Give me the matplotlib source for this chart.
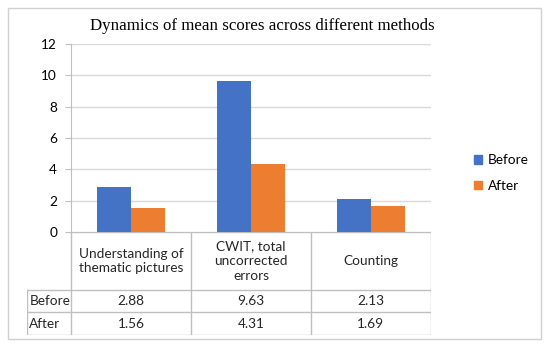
import matplotlib.pyplot as plt
import numpy as np
from matplotlib.patches import Patch

# Data
categories = ['Understanding of\nthematic pictures', 'CWIT, total\nuncorrected\nerrors', 'Counting']
before = [2.88, 9.63, 2.13]
after = [1.56, 4.31, 1.69]
series_names = ['Before', 'After']
yticks = [0, 2, 4, 6, 8, 10, 12]

blue = '#4472C4'
orange = '#ED7D31'
grid_c = '#D9D9D9'
line_c = '#BFBFBF'
W, H = 550, 347

fig = plt.figure(figsize=(5.5, 3.47), dpi=100)

def box(x0, y0, x1, y1):
    # pixel box (top-left origin) -> figure fraction rect
    return [x0 / W, 1 - y1 / H, (x1 - x0) / W, (y1 - y0) / H]

# outer chart border
fig.patches.append(plt.Rectangle((8 / W, 1 - 339 / H), 533 / W, 331 / H, transform=fig.transFigure,
                                 fill=False, edgecolor='#D0D0D0', lw=1))

fig.text(262 / W, 1 - 26 / H, 'Dynamics of mean scores across different methods',
         ha='center', va='center', fontsize=12.2, family='Liberation Serif')

# bar chart
ax = fig.add_axes(box(71, 44, 431, 232))
x = np.arange(len(categories)) + 0.5
w = 0.283
ax.bar(x - w / 2, before, w, color=blue, zorder=3)
ax.bar(x + w / 2, after, w, color=orange, zorder=3)
ax.set_xlim(0, len(categories))
ax.set_ylim(0, 12)
ax.set_yticks(yticks)
ax.set_yticklabels([str(t) for t in yticks], family='Lato', fontsize=9.8)
ax.set_xticks([])
ax.yaxis.grid(True, color=grid_c, lw=1, zorder=0)
for s in ['top', 'right', 'bottom']:
    ax.spines[s].set_visible(False)
ax.spines['left'].set_color(line_c)
ax.tick_params(axis='y', length=4, color=line_c, pad=6)

# data table
tx = fig.add_axes(box(27, 232, 431, 335))
lab_w = 44 / 120
tx.set_xlim(-lab_w, len(categories))
row_h = [58, 22, 23]
edges = np.concatenate([[0], np.cumsum(row_h)])
tx.set_ylim(edges[-1], 0)
tx.axis('off')
lk = dict(color=line_c, lw=1)
for i in range(len(categories) + 1):
    tx.plot([i, i], [0, edges[-1]], **lk)
tx.plot([-lab_w, -lab_w], [edges[1], edges[-1]], **lk)
tx.plot([0, len(categories)], [0, 0], **lk)
for e in edges[1:]:
    tx.plot([-lab_w, len(categories)], [e, e], **lk)
tf = dict(family='Lato', fontsize=9.8, color='#262626')
for i, c in enumerate(categories):
    tx.text(i + 0.5, (edges[0] + edges[1]) / 2, c, ha='center', va='center', linespacing=1.3, **tf)
for r, (name, vals) in enumerate(zip(series_names, [before, after])):
    yc = (edges[r + 1] + edges[r + 2]) / 2
    tx.text(-lab_w + 0.02, yc, name, ha='left', va='center', **tf)
    for i, v in enumerate(vals):
        tx.text(i + 0.5, yc, f'{v:.2f}', ha='center', va='center', **tf)

# legend
handles = [Patch(color=blue, label=series_names[0]), Patch(color=orange, label=series_names[1])]
fig.legend(handles=handles, loc='center left', bbox_to_anchor=(462 / W, 1 - 173 / H), frameon=False,
           prop={'family': 'Lato', 'size': 9.8}, handlelength=0.6, handleheight=0.6,
           handletextpad=0.4, labelspacing=1.0)

fig.savefig('out.png', dpi=100)
